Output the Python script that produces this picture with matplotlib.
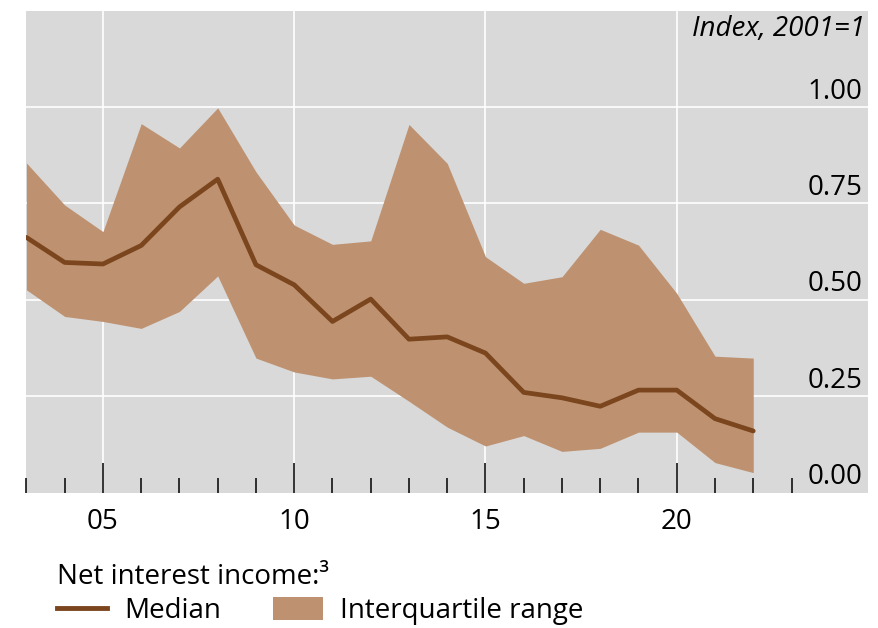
import matplotlib
matplotlib.use("Agg")
import matplotlib.pyplot as plt
import matplotlib.transforms as mtransforms
from matplotlib.lines import Line2D
from matplotlib.patches import Patch

plt.rcParams['font.family'] = ['Open Sans', 'DejaVu Sans']

years = list(range(2003, 2023))
upper = [0.855, 0.746, 0.677, 0.957, 0.894, 0.998, 0.832, 0.694, 0.644, 0.653,
         0.955, 0.854, 0.612, 0.543, 0.560, 0.683, 0.642, 0.517, 0.354, 0.349]
lower = [0.526, 0.457, 0.444, 0.426, 0.470, 0.562, 0.349, 0.313, 0.295, 0.302,
         0.237, 0.170, 0.121, 0.148, 0.107, 0.115, 0.157, 0.157, 0.078, 0.052]
median = [0.662, 0.597, 0.593, 0.641, 0.741, 0.813, 0.591, 0.539, 0.444, 0.502,
          0.398, 0.404, 0.362, 0.260, 0.246, 0.224, 0.266, 0.266, 0.192, 0.160]

major_years = [2005, 2010, 2015, 2020]
major_labels = ['05', '10', '15', '20']
minor_years = list(range(2003, 2024))
y_ticks = [0.0, 0.25, 0.5, 0.75, 1.0]
y_labels = ['0.00', '0.25', '0.50', '0.75', '1.00']

FILL = '#be9270'
LINE = '#7b461e'
BG = '#d9d9d9'
FS = 20

fig = plt.figure(figsize=(8.79, 6.28), dpi=100)
ax = fig.add_axes([0.0301, 0.2155, 0.9574, 0.7675])
ax.set_facecolor(BG)
for s in ax.spines.values():
    s.set_visible(False)

ax.set_xlim(2003, 2025)
ax.set_ylim(0, 1.25)

ax.fill_between(years, lower, upper, color=FILL, linewidth=0, zorder=2)
ax.plot(years, median, color=LINE, linewidth=3.4, solid_capstyle='round', zorder=3)

ax.set_xticks(major_years, major_labels)
ax.set_xticks(minor_years, minor=True)
ax.tick_params(axis='x', which='major', direction='in', length=21.5, width=1.1,
               color='black', labelsize=FS, pad=11)
ax.tick_params(axis='x', which='minor', direction='in', length=10.5, width=1.1,
               color='black')
for xv in major_years:
    ax.axvline(xv, color='white', linewidth=1.2, zorder=1)

ax.set_yticks(y_ticks, y_labels)
ax.tick_params(axis='y', left=False, labelleft=False, right=True, labelright=True,
               length=0, pad=-4, labelsize=FS)
offset = mtransforms.ScaledTranslation(0, 0.015, fig.dpi_scale_trans)
for lab in ax.get_yticklabels():
    lab.set_horizontalalignment('right')
    lab.set_verticalalignment('bottom')
    lab.set_transform(lab.get_transform() + offset)
for yv in y_ticks[1:]:
    ax.axhline(yv, color='white', linewidth=1.2, zorder=1)

ax.text(0.996, 0.99, 'Index, 2001=1', transform=ax.transAxes, ha='right', va='top',
        fontsize=FS, style='italic')

handles = [Line2D([], [], color=LINE, linewidth=3.5),
           Patch(facecolor=FILL, edgecolor='none')]
leg = fig.legend(handles, ['Median', 'Interquartile range'], ncol=2,
                 loc='center left', bbox_to_anchor=(0.065, 0.027),
                 frameon=False, fontsize=FS, handlelength=1.8, handleheight=0.9,
                 handletextpad=0.6, columnspacing=1.9, borderaxespad=0, borderpad=0)
fig.text(0.065, 0.081, 'Net interest income:³', fontsize=FS, ha='left', va='center')

fig.savefig('out.png', dpi=100)
